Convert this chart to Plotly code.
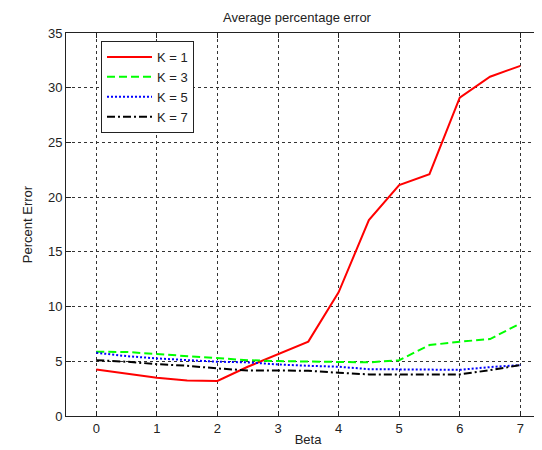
import plotly.graph_objects as go

beta = [0, 0.5, 1, 1.5, 2, 2.5, 3, 3.5, 4, 4.5, 5, 5.5, 6, 6.5, 7]
k1 = [4.25, 3.9, 3.5, 3.25, 3.2, 4.5, 5.65, 6.8, 11.3, 17.9, 21.1, 22.1, 29.1, 31.0, 32.0]
k3 = [5.87, 5.85, 5.66, 5.47, 5.32, 5.1, 5.02, 4.96, 4.9, 4.9, 5.1, 6.48, 6.79, 7.03, 8.46]
k5 = [5.78, 5.47, 5.26, 5.1, 4.96, 4.9, 4.71, 4.59, 4.5, 4.28, 4.28, 4.22, 4.22, 4.47, 4.65]
k7 = [5.1, 4.96, 4.74, 4.59, 4.35, 4.16, 4.16, 4.13, 3.95, 3.8, 3.8, 3.8, 3.8, 4.19, 4.65]
series_names = ["K = 1", "K = 3", "K = 5", "K = 7"]
xticks = [0, 1, 2, 3, 4, 5, 6, 7]
yticks = [0, 5, 10, 15, 20, 25, 30, 35]

FONT = "Liberation Sans, Arial, sans-serif"
styles = [
    dict(color="#ff0000", dash="solid"),
    dict(color="#00ff00", dash="8px,4px"),
    dict(color="#0000ff", dash="2px,2px"),
    dict(color="#000000", dash="8px,3px,2px,3px"),
]

fig = go.Figure()
for name, ys, st in zip(series_names, [k1, k3, k5, k7], styles):
    fig.add_trace(go.Scatter(x=beta, y=ys, mode="lines", name=name,
                             line=dict(color=st["color"], dash=st["dash"], width=2)))

axis_common = dict(
    showline=True, linecolor="#222222", linewidth=1,
    ticks="inside", ticklen=5, tickcolor="#222222",
    showgrid=True, gridcolor="#333333", gridwidth=1, griddash="3px,3px",
    zeroline=False,
    tickfont=dict(family=FONT, size=13, color="#222222"),
)

fig.update_layout(
    width=542, height=450,
    margin=dict(l=58, r=0, t=25, b=42),
    paper_bgcolor="white", plot_bgcolor="white",
    font=dict(family=FONT, size=13, color="#222222"),
    title=dict(text="Average percentage error", xref="container", x=289/542,
               xanchor="center", yref="container", y=1 - 9/450, yanchor="middle",
               font=dict(family=FONT, size=13, color="#222222")),
    xaxis=dict(range=[-0.5, 7.49], tickvals=xticks, ticktext=[str(v) for v in xticks],
               mirror="ticks",
               title=dict(text="Beta", standoff=0, font=dict(family=FONT, size=13)),
               **axis_common),
    yaxis=dict(range=[0, 35], tickvals=yticks, ticktext=[str(v) for v in yticks],
               mirror=False,
               title=dict(text="Percent Error", standoff=12, font=dict(family=FONT, size=13)),
               **axis_common),
    legend=dict(x=(93 - 58) / 484, y=(407.5 - 33) / 382.5, xanchor="left", yanchor="top",
                bgcolor="white", bordercolor="#222222", borderwidth=1,
                font=dict(family=FONT, size=13, color="#222222"),
                itemwidth=45, tracegroupgap=0),
    showlegend=True,
)

fig.write_html("out.html")
